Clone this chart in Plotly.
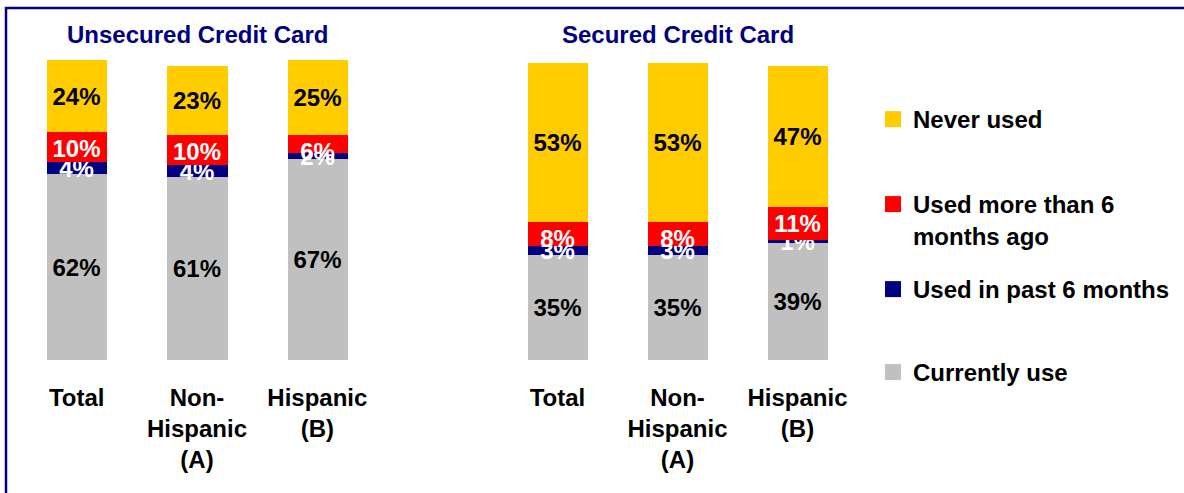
import plotly.graph_objects as go

W, H = 1184, 493

categories = ["Total", "Non-<br>Hispanic<br>(A)", "Hispanic<br>(B)"]
series_names = ["Currently use", "Used in past 6 months", "Used more than 6<br>months ago", "Never used"]
series_colors = ["#C0C0C0", "#000080", "#FF0000", "#FFCC00"]
label_colors = ["#000000", "#FFFFFF", "#FFFFFF", "#000000"]
label_anchor = ["middle", "middle", "end", "middle"]

unsecured_currently = [62, 61, 67]
unsecured_past6 = [4, 4, 2]
unsecured_more6 = [10, 10, 6]
unsecured_never = [24, 23, 25]

secured_currently = [35, 35, 39]
secured_past6 = [3, 3, 1]
secured_more6 = [8, 8, 11]
secured_never = [53, 53, 47]

panel_titles = ["Unsecured Credit Card", "Secured Credit Card"]

FONT = "Arial, Liberation Sans, sans-serif"
FS = 24

def px_x(p):
    return p / W

def px_y(p):
    return 1 - p / H

fig = go.Figure()

panels = [
    ("x", "y", [unsecured_currently, unsecured_past6, unsecured_more6, unsecured_never]),
    ("x2", "y2", [secured_currently, secured_past6, secured_more6, secured_never]),
]
for xa, ya, data in panels:
    for i, vals in enumerate(data):
        fig.add_trace(go.Bar(
            x=categories, y=vals, xaxis=xa, yaxis=ya,
            name=series_names[i], showlegend=False,
            marker=dict(color=series_colors[i], line=dict(width=0)),
            width=0.5,
            text=[f"{v}%" for v in vals],
            textposition="inside", insidetextanchor=label_anchor[i],
            constraintext="none",
            textfont=dict(family=FONT, size=FS, color=label_colors[i], weight="bold"),
            hoverinfo="skip",
        ))

# legend entries (one legend per entry for exact placement)
legend_order = [3, 2, 1, 0]
legend_ids = ["legend", "legend2", "legend3", "legend4"]
legend_y_px = [119, 204, 289, 372]
for k, idx in enumerate(legend_order):
    fig.add_trace(go.Scatter(
        x=[None], y=[None], mode="markers", xaxis="x", yaxis="y",
        name=series_names[idx], legend=legend_ids[k],
        marker=dict(symbol="square", size=17, color=series_colors[idx]),
        showlegend=True,
    ))

legend_common = dict(
    font=dict(family=FONT, size=FS, color="#000000", weight="bold"),
    bgcolor="rgba(0,0,0,0)", borderwidth=0, xanchor="left", yanchor="top",
    valign="top", itemclick=False, itemdoubleclick=False,
)
lay_legends = {}
for k, lid in enumerate(legend_ids):
    lay_legends[lid] = dict(legend_common, x=px_x(873), y=px_y(legend_y_px[k] - 22))

left_dom = [px_x(16.5), px_x(377.5)]
right_dom = [px_x(497.5), px_x(857.5)]
ydom = [px_y(360), px_y(60)]

axis_x = dict(
    type="category", range=[-0.5, 2.5], showgrid=False, zeroline=False,
    showline=False, ticks="", ticklabelstandoff=21,
    tickfont=dict(family=FONT, size=FS, color="#000000", weight="bold"),
    fixedrange=True,
)
axis_y = dict(range=[0, 100], showgrid=False, zeroline=False, showline=False,
              showticklabels=False, ticks="", domain=ydom, fixedrange=True)

fig.update_layout(
    width=W, height=H,
    margin=dict(l=0, r=0, t=0, b=0),
    paper_bgcolor="#FFFFFF", plot_bgcolor="#FFFFFF",
    barmode="stack", bargap=0,
    xaxis=dict(axis_x, domain=left_dom, anchor="y"),
    yaxis=dict(axis_y, anchor="x"),
    xaxis2=dict(axis_x, domain=right_dom, anchor="y2"),
    yaxis2=dict(axis_y, anchor="x2"),
    annotations=[
        dict(text=panel_titles[0], x=sum(left_dom) / 2, y=px_y(35), xref="paper", yref="paper",
             showarrow=False, xanchor="center", yanchor="middle",
             font=dict(family=FONT, size=FS, color="#000080", weight="bold")),
        dict(text=panel_titles[1], x=sum(right_dom) / 2, y=px_y(35), xref="paper", yref="paper",
             showarrow=False, xanchor="center", yanchor="middle",
             font=dict(family=FONT, size=FS, color="#000080", weight="bold")),
    ],
    shapes=[
        dict(type="rect", xref="paper", yref="paper",
             x0=px_x(6), x1=1.05, y0=-0.05, y1=px_y(8),
             line=dict(color="#000080", width=2.5), fillcolor="rgba(0,0,0,0)", layer="above"),
    ],
    **lay_legends,
)

fig.write_html("out.html", config={"displayModeBar": False})
